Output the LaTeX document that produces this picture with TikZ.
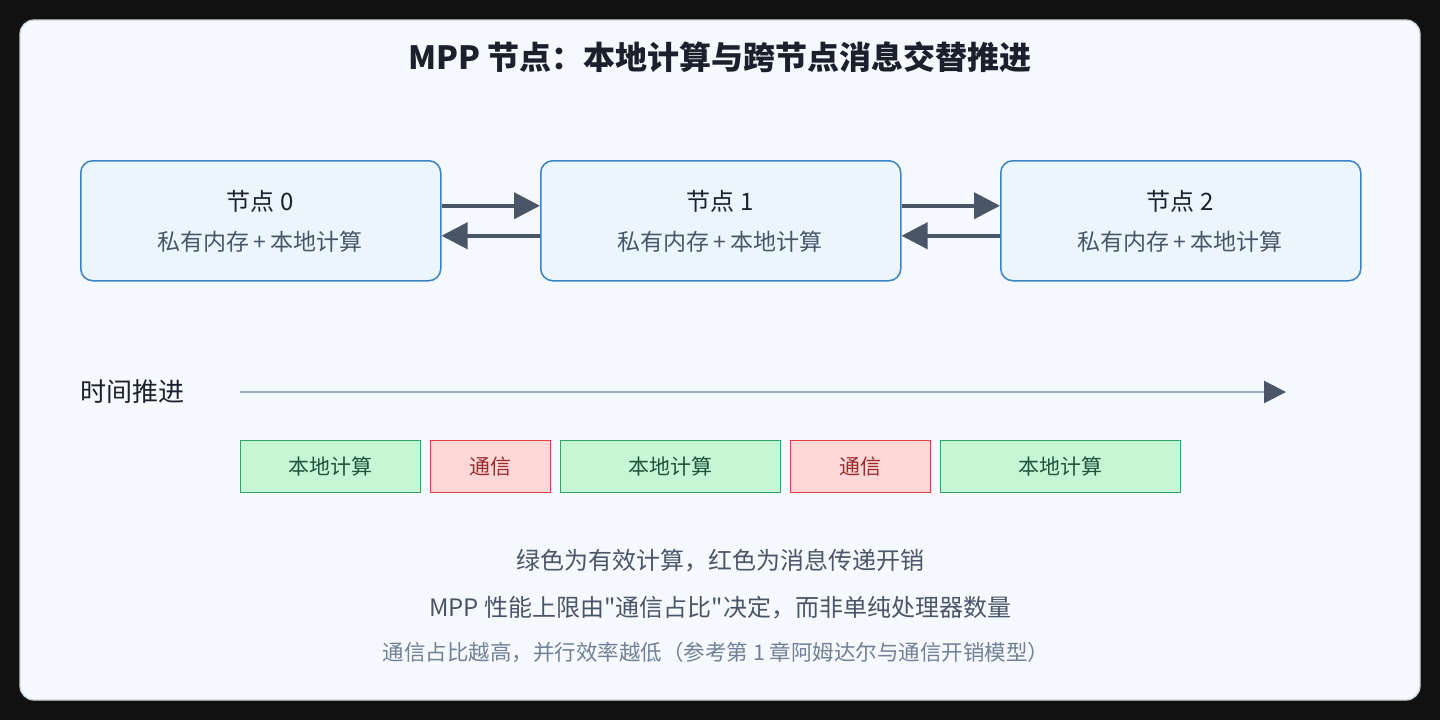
\documentclass[tikz,border=0pt]{standalone}
\usepackage{fontspec}
\newfontfamily\cjk{Noto Sans CJK SC}
\usetikzlibrary{arrows.meta}
\definecolor{bgdark}{HTML}{111111}
\definecolor{panel}{HTML}{F5F9FD}
\definecolor{panelb}{HTML}{CDD3DA}
\definecolor{nodefill}{HTML}{EAF5FE}
\definecolor{nodeb}{HTML}{3B82C4}
\definecolor{arr}{HTML}{4A5568}
\definecolor{axis}{HTML}{A0AEC0}
\definecolor{gfill}{HTML}{C6F6D5}
\definecolor{gb}{HTML}{38A169}
\definecolor{gt}{HTML}{22543D}
\definecolor{rfill}{HTML}{FED7D7}
\definecolor{rb}{HTML}{E53E3E}
\definecolor{rt}{HTML}{9B2C2C}
\definecolor{txt}{HTML}{1A202C}
\definecolor{sub}{HTML}{4A5568}
\definecolor{light}{HTML}{718096}
\begin{document}
\begin{tikzpicture}[x=1pt,y=-1pt,font=\cjk,
  pnode/.style={draw=nodeb,line width=1.5pt,fill=nodefill,rounded corners=12pt,minimum width=360pt,minimum height=120pt,anchor=north west},
  msg/.style={draw=arr,line width=4pt,-{Triangle[length=26pt,width=26pt]}},
  gbox/.style={draw=gb,line width=1.3pt,fill=gfill,minimum height=52pt,anchor=north west,text=gt,font=\cjk\fontsize{21}{25}\selectfont},
  rbox/.style={draw=rb,line width=1.3pt,fill=rfill,minimum height=52pt,anchor=north west,text=rt,font=\cjk\fontsize{21}{25}\selectfont}]
\fill[bgdark] (0,0) rectangle (1440,720);
\useasboundingbox (0,0) rectangle (1440,720);
\draw[panelb,fill=panel,line width=1.2pt,rounded corners=14pt] (20,20) rectangle (1420,700);
\node[text=txt,font=\cjk\bfseries\fontsize{32}{38}\selectfont] (title) at (720,57) {MPP 节点：本地计算与跨节点消息交替推进};
\foreach \i/\x in {0/80,1/540,2/1000}{
  \node[pnode] (n\i) at (\x,160) {};
  \node[text=txt,font=\cjk\fontsize{24}{29}\selectfont] (t\i) at (\x+180,201) {节点 \i};
  \node[text=sub,font=\cjk\fontsize{23}{27}\selectfont] (s\i) at (\x+180,242) {私有内存\,+\,本地计算};
}
\draw[msg] ([yshift=15pt]n0.east) -- ([yshift=15pt]n1.west);
\draw[msg] ([yshift=-15pt]n1.west) -- ([yshift=-15pt]n0.east);
\draw[msg] ([yshift=15pt]n1.east) -- ([yshift=15pt]n2.west);
\draw[msg] ([yshift=-15pt]n2.west) -- ([yshift=-15pt]n1.east);
\node[text=txt,font=\cjk\fontsize{26}{30}\selectfont,anchor=west,inner sep=0] (tl) at (80,392) {时间推进};
\coordinate (a0) at (240,392);
\coordinate (a1) at (1286,392);
\draw[axis,line width=2.5pt,-{Triangle[length=22pt,width=22pt,fill=arr,color=arr]}] (a0) -- (a1);
\node[gbox,minimum width=180pt] (b1) at (240,440) {本地计算};
\node[rbox,minimum width=120pt] (b2) at (430,440) {通信};
\node[gbox,minimum width=220pt] (b3) at (560,440) {本地计算};
\node[rbox,minimum width=140pt] (b4) at (790,440) {通信};
\node[gbox,minimum width=240pt] (b5) at (940,440) {本地计算};
\node[text=sub,font=\cjk\fontsize{24}{28}\selectfont] (l1) at (720,561) {绿色为有效计算，红色为消息传递开销};
\node[text=sub,font=\cjk\fontsize{24}{28}\selectfont] (l2) at (720,608) {MPP 性能上限由"通信占比"决定，而非单纯处理器数量};
\node[text=light,font=\cjk\fontsize{21.5}{25}\selectfont] (l3) at (716,652) {通信占比越高，并行效率越低（参考第 1 章阿姆达尔与通信开销模型）};
\end{tikzpicture}
\end{document}
